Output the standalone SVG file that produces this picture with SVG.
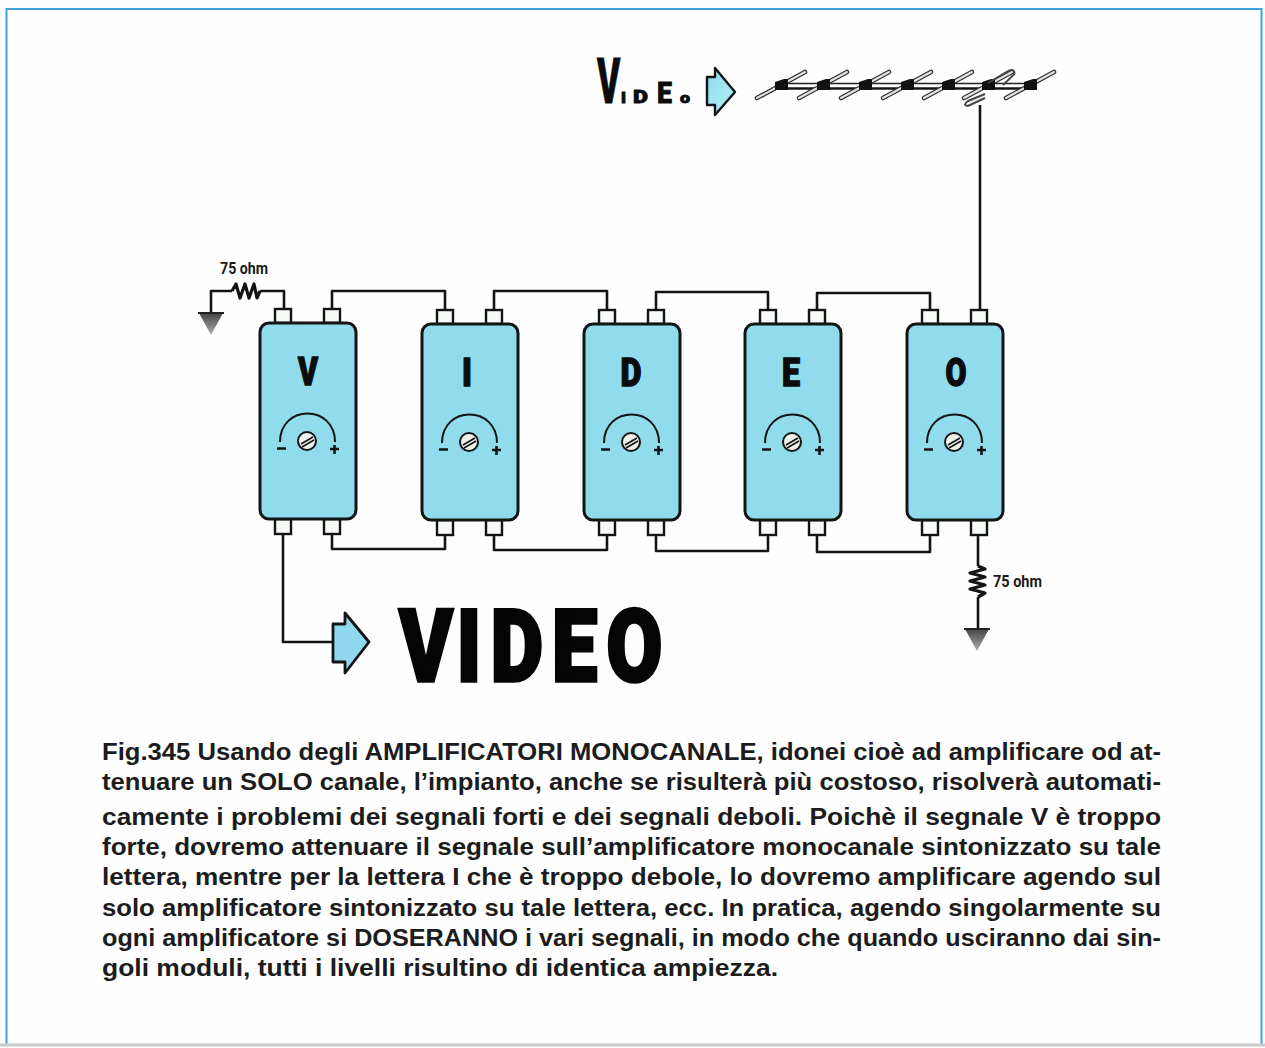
<svg xmlns="http://www.w3.org/2000/svg" xmlns:xlink="http://www.w3.org/1999/xlink" width="1265" height="1048" viewBox="0 0 1265 1048">
<style>
.w{fill:none;stroke:#141414;stroke-width:2.6;stroke-linejoin:round}
.r{fill:none;stroke:#141414;stroke-width:3.2;stroke-linejoin:round}
.m{fill:#90dcec;stroke:#141414;stroke-width:3}
.p{fill:#f6fbf6;stroke:#141414;stroke-width:2.4}
.l{font-family:"Roboto","Liberation Sans",sans-serif;font-weight:900;font-size:38px;fill:#0c0c0c;stroke:#0c0c0c;stroke-width:1.4;text-anchor:middle}
.t{font-family:"Roboto","Liberation Sans",sans-serif;font-weight:900;fill:#0c0c0c;stroke:#0c0c0c;stroke-width:.8}
.o{font-family:"Roboto","Liberation Sans",sans-serif;font-weight:700;font-size:17px;fill:#1a1a1a}
.c{font-family:"Liberation Sans",Arial,sans-serif;font-weight:700;font-size:23px;fill:#1c1c1c}
.a{fill:none;stroke:#141414;stroke-width:2}
.s{fill:#eef2ea;stroke:#141414;stroke-width:2}
.e{stroke:#333;stroke-width:4.6;stroke-linecap:round}
.ei{stroke:#e2e6e2;stroke-width:2;stroke-linecap:round}
.h{fill:#111}
</style>
<defs>
<g id="mod">
<rect class="p" x="16" y="-14" width="16" height="14"/>
<rect class="p" x="65" y="-14" width="16" height="14"/>
<rect class="p" x="16" y="196" width="16" height="15"/>
<rect class="p" x="65" y="196" width="16" height="15"/>
<rect class="m" x="1" y="0" width="96" height="196" rx="9"/>
<path class="a" d="M21 119 C21 81 76 81 76 119"/>
<circle class="s" cx="48" cy="118" r="9"/>
<path d="M42 121 L54 114 M43 124 L55 117" stroke="#141414" stroke-width="1.6" fill="none"/>
<path d="M18 125.500h9M71 126h9M75.500 122v9" stroke="#141414" stroke-width="2.600" fill="none"/>
</g>
<linearGradient id="gnd" x1="0" y1="0" x2="0" y2="1"><stop offset="0" stop-color="#444"/><stop offset="1" stop-color="#b0b0b0"/></linearGradient>
<linearGradient id="arr" x1="0" y1="0" x2="1" y2="1"><stop offset="0" stop-color="#8fdcf0"/><stop offset="1" stop-color="#b5eef2"/></linearGradient>
<g id="ground"><path d="M-12 0H12L0 22Z" fill="url(#gnd)"/><path d="M-13 0H13" stroke="#222" stroke-width="2"/></g>
<g id="dip"><line class="e" x1="-24" y1="13" x2="24" y2="-13"/><line class="ei" x1="-24" y1="13" x2="24" y2="-13"/><path class="h" d="M-6 -3L3 -6H7V5H-6Z"/></g>
</defs>
<rect x="0" y="0" width="1265" height="1048" fill="#fdfefd"/>
<path d="M6.500 1044V9H1261.500V1044" fill="none" stroke="#3ca3d8" stroke-width="2"/>
<path d="M0 1045H1265" stroke="#c9ccc8" stroke-width="3"/>

<g id="connectors">
<path class="w" d="M211 313V291H232M260 291H284V309"/>
<path class="r" d="M232 291L236 284L240 298L245 284L249 298L254 284L257 298L260 291"/>
<path class="w" d="M332 309V291H445V309"/>
<path class="w" d="M494 309V291H607V309"/>
<path class="w" d="M656 309V292H768V309"/>
<path class="w" d="M817 309V293H930V309"/>
<path class="w" d="M980 309V105"/>
<path class="w" d="M332 530V549H445V530"/>
<path class="w" d="M494 530V550H607V530"/>
<path class="w" d="M656 530V551H768V530"/>
<path class="w" d="M817 530V552H930V530"/>
<path class="w" d="M978 530V566M978 597V628"/>
<path class="r" d="M978 566L985 569L970 573L985 577L970 581L985 585L970 589L985 593L978 597"/>
<path class="w" d="M283 530V642H333"/>
</g>

<g id="module-v"><use xlink:href="#mod" href="#mod" x="259" y="323"/><text class="l" x="308" y="385" textLength="20" lengthAdjust="spacingAndGlyphs">V</text></g>
<g id="module-i"><use xlink:href="#mod" href="#mod" x="421" y="324"/><text class="l" x="467" y="386" textLength="10" lengthAdjust="spacingAndGlyphs">I</text></g>
<g id="module-d"><use xlink:href="#mod" href="#mod" x="583" y="324"/><text class="l" x="631" y="386" textLength="21" lengthAdjust="spacingAndGlyphs">D</text></g>
<g id="module-e"><use xlink:href="#mod" href="#mod" x="744" y="324"/><text class="l" x="791" y="386" textLength="18" lengthAdjust="spacingAndGlyphs">E</text></g>
<g id="module-o"><use xlink:href="#mod" href="#mod" x="906" y="324"/><text class="l" x="956" y="386" textLength="21" lengthAdjust="spacingAndGlyphs">O</text></g>

<g id="ground-left"><use xlink:href="#ground" href="#ground" x="211" y="313"/></g>
<g id="ground-right"><use xlink:href="#ground" href="#ground" x="977" y="629"/></g>
<text class="o" x="220" y="274" textLength="48" lengthAdjust="spacingAndGlyphs">75 ohm</text>
<text class="o" x="993" y="587" textLength="49" lengthAdjust="spacingAndGlyphs">75 ohm</text>

<g id="arrow-video">
<path d="M333 624H345V613L369 642L345 673V662H333Z" fill="#8fd8f0" stroke="#141414" stroke-width="2.800" stroke-linejoin="round"/>
<text transform="scale(.8 1)" x="499 571 613.500 690 758" y="681" font-family="Roboto,'Liberation Sans',sans-serif" font-weight="900" font-size="101" fill="#050505" stroke="#050505" stroke-width="3.500">VIDEO</text>
</g>

<g id="antenna-label">
<text class="t" transform="translate(597 103) scale(.56 1)" font-size="63" stroke-width="1.500">V</text>
<text class="t" x="621" y="103" font-size="14" textLength="5" lengthAdjust="spacingAndGlyphs">I</text>
<text class="t" x="633" y="103" font-size="18" textLength="15" lengthAdjust="spacingAndGlyphs">D</text>
<text class="t" x="657" y="103" font-size="30" textLength="15" lengthAdjust="spacingAndGlyphs">E</text>
<text class="t" x="680" y="103" font-size="15" textLength="10" lengthAdjust="spacingAndGlyphs">o</text>
<path d="M707 77H715V68L735 92L715 115V105H707Z" fill="url(#arr)" stroke="#141414" stroke-width="2.400" stroke-linejoin="round"/>
</g>

<g id="antenna">
<path d="M776 83.500H1032" stroke="#222" stroke-width="1.500" fill="none"/>
<path d="M776 88.500H1032" stroke="#141414" stroke-width="2.600" fill="none"/>
<use xlink:href="#dip" href="#dip" x="781" y="85"/>
<use xlink:href="#dip" href="#dip" x="823" y="85"/>
<use xlink:href="#dip" href="#dip" x="865" y="85"/>
<use xlink:href="#dip" href="#dip" x="907" y="85"/>
<use xlink:href="#dip" href="#dip" x="948" y="85"/>
<use xlink:href="#dip" href="#dip" x="988" y="85"/>
<use xlink:href="#dip" href="#dip" x="1030" y="85"/>
<path d="M988 83L1008 71Q1015 68 1014.500 74L1003 85" fill="none" stroke="#444" stroke-width="1.800"/>
<path d="M985 94L968 101Q962 105 968 106L985 98" fill="#f0f3f0" stroke="#444" stroke-width="2"/>
</g>

<g id="caption">
<text class="c" x="102" y="760" textLength="1059" lengthAdjust="spacingAndGlyphs">Fig.345 Usando degli AMPLIFICATORI MONOCANALE, idonei cioè ad amplificare od at-</text>
<text class="c" x="102" y="790" textLength="1059" lengthAdjust="spacingAndGlyphs">tenuare un SOLO canale, l’impianto, anche se risulterà più costoso, risolverà automati-</text>
<text class="c" x="102" y="825" textLength="1059" lengthAdjust="spacingAndGlyphs">camente i problemi dei segnali forti e dei segnali deboli. Poichè il segnale V è troppo</text>
<text class="c" x="102" y="855" textLength="1059" lengthAdjust="spacingAndGlyphs">forte, dovremo attenuare il segnale sull’amplificatore monocanale sintonizzato su tale</text>
<text class="c" x="102" y="885" textLength="1059" lengthAdjust="spacingAndGlyphs">lettera, mentre per la lettera I che è troppo debole, lo dovremo amplificare agendo sul</text>
<text class="c" x="102" y="916" textLength="1059" lengthAdjust="spacingAndGlyphs">solo amplificatore sintonizzato su tale lettera, ecc. In pratica, agendo singolarmente su</text>
<text class="c" x="102" y="946" textLength="1059" lengthAdjust="spacingAndGlyphs">ogni amplificatore si DOSERANNO i vari segnali, in modo che quando usciranno dai sin-</text>
<text class="c" x="102" y="976" textLength="676" lengthAdjust="spacingAndGlyphs">goli moduli, tutti i livelli risultino di identica ampiezza.</text>
</g>
</svg>
